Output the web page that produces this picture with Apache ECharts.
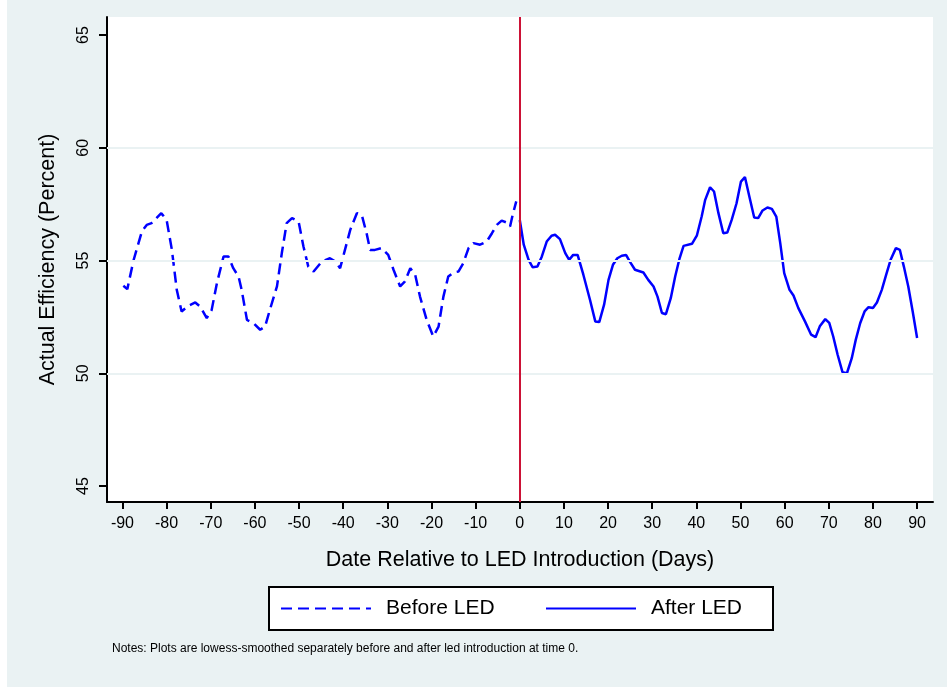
<!DOCTYPE html>
<html>
<head>
<meta charset="utf-8">
<script src="https://cdn.jsdelivr.net/npm/echarts@6/dist/echarts.min.js"></script>
<style>
html, body { margin: 0; padding: 0; background: #fff; }
#chart { width: 947px; height: 687px; }
</style>
</head>
<body>
<div id="chart"></div>
<script>
// days relative to LED introduction, lowess-smoothed efficiency (%)
var beforeDays = [-89.8, -88.9, -87.5, -85.6, -84.5, -83.4, -81.2, -80.0, -78.8, -77.7,
    -76.6, -75.0, -73.5, -72.4, -70.9, -69.8, -68.6, -67.1, -66.0, -64.9,
    -63.7, -63.0, -61.8, -60.3, -58.8, -57.7, -56.6, -55.0, -53.9, -52.8,
    -51.6, -50.1, -49.0, -47.9, -46.7, -44.8, -43.0, -41.8, -40.7, -39.6,
    -38.4, -36.9, -35.8, -34.7, -33.9, -32.8, -31.3, -29.8, -28.6, -27.1,
    -26.0, -24.8, -23.7, -22.6, -21.1, -19.6, -18.4, -17.3, -16.2, -15.0,
    -13.9, -12.8, -11.6, -10.5, -9.0, -7.5, -6.3, -5.2, -4.1, -2.9,
    -2.2, -1.6, -0.8];
var beforeVals = [53.88, 53.73, 55.0, 56.29, 56.58, 56.66, 57.1, 56.8, 55.47, 53.7,
    52.74, 53.0, 53.14, 52.96, 52.45, 52.8, 54.0, 55.18, 55.18, 54.66,
    54.29, 53.7, 52.37, 52.22, 51.93, 52.07, 52.82, 53.85, 55.33, 56.66,
    56.88, 56.73, 55.62, 54.73, 54.51, 54.96, 55.1, 54.96, 54.66, 55.47,
    56.36, 57.1, 57.03, 56.21, 55.47, 55.47, 55.55, 55.25, 54.59, 53.85,
    54.07, 54.66, 54.37, 53.4, 52.37, 51.63, 52.07, 53.4, 54.29, 54.47,
    54.51, 54.88, 55.55, 55.77, 55.7, 55.84, 56.21, 56.58, 56.77, 56.68,
    56.51, 57.03, 57.62];

var afterDays = [0, 0.9, 2.0, 2.9, 4.0, 5.0, 6.1, 7.2, 8.0, 9.1,
    10.3, 11.2, 12.1, 13.1, 14.4, 15.9, 17.1, 18.0, 19.1, 20.1,
    21.1, 22.1, 23.1, 24.1, 25.0, 26.1, 28.0, 29.1, 30.3, 31.2,
    32.2, 33.1, 34.2, 35.2, 36.2, 37.1, 39.0, 40.1, 41.2, 42.0,
    43.1, 44.0, 45.0, 46.1, 47.0, 48.0, 49.1, 50.1, 51.0, 52.0,
    53.1, 54.0, 55.0, 56.1, 57.1, 58.1, 59.0, 59.9, 61.1, 62.0,
    63.1, 64.6, 66.0, 67.0, 68.0, 69.2, 70.1, 71.0, 72.0, 73.1,
    74.1, 75.2, 76.1, 77.1, 78.1, 79.0, 80.0, 80.9, 82.0, 83.0,
    84.0, 85.2, 86.1, 87.0, 88.0, 89.0, 90.0];
var afterVals = [56.8, 55.7, 55.03, 54.7, 54.73, 55.18, 55.84, 56.1, 56.14, 55.95,
    55.33, 55.03, 55.25, 55.25, 54.37, 53.26, 52.3, 52.27, 53.04, 54.14,
    54.81, 55.1, 55.21, 55.24, 54.93, 54.59, 54.47, 54.14, 53.85, 53.4,
    52.67, 52.62, 53.33, 54.29, 55.1, 55.65, 55.74, 56.1, 56.95, 57.69,
    58.25, 58.06, 57.1, 56.21, 56.24, 56.8, 57.54, 58.5, 58.7, 57.84,
    56.91, 56.88, 57.22, 57.35, 57.29, 56.95, 55.77, 54.44, 53.7, 53.45,
    52.89, 52.3, 51.71, 51.6, 52.1, 52.4, 52.23, 51.63, 50.82, 50.05,
    50.0, 50.67, 51.48, 52.22, 52.74, 52.93, 52.89, 53.14, 53.7, 54.37,
    55.03, 55.55, 55.47, 54.73, 53.85, 52.74, 51.56];

var xTicks = [-90, -80, -70, -60, -50, -40, -30, -20, -10, 0, 10, 20, 30, 40, 50, 60, 70, 80, 90];
var yTicks = [45, 50, 55, 60, 65];
var gridVals = [50, 55, 60];

var font = "'Liberation Sans', Arial, Helvetica, sans-serif";
var bg = '#eaf2f3';

function pairs(xs, ys) {
    return xs.map(function (x, i) { return [x, ys[i]]; });
}

var chart = echarts.init(document.getElementById('chart'));

var legendBase = {
    top: 598, padding: 0,
    itemWidth: 90, itemHeight: 14, z: 10,
    itemStyle: { opacity: 0 },
    textStyle: { fontSize: 21, color: '#000', padding: [0, 0, 0, 10] }
};

var option = {
    backgroundColor: bg,
    animation: false,
    textStyle: { fontFamily: font, color: '#000' },
    title: {
        text: 'Notes: Plots are lowess-smoothed separately before and after led introduction at time 0.',
        left: 112,
        top: 643,
        padding: 0,
        textStyle: { fontSize: 12, fontWeight: 'normal', color: '#000', fontFamily: font }
    },
    graphic: [
        { type: 'rect', left: 0, top: 0, shape: { width: 7, height: 687 }, style: { fill: '#fff' }, z: 0 },
        { type: 'rect', left: 268, top: 586, shape: { width: 504, height: 43 },
          style: { fill: '#fff', stroke: '#000', lineWidth: 2 }, z: 1 }
    ],
    legend: [
        Object.assign({ data: ['Before LED'], left: 280 }, legendBase),
        Object.assign({ data: ['After LED'], left: 545 }, legendBase)
    ],
    grid: {
        left: 107, right: 14, top: 17, bottom: 185,
        show: true, backgroundColor: '#fff', borderWidth: 0,
        containLabel: false
    },
    xAxis: {
        type: 'value',
        min: -93.5, max: 93.6,
        name: 'Date Relative to LED Introduction (Days)',
        nameLocation: 'middle',
        nameGap: 47,
        nameTextStyle: { fontSize: 21.5, color: '#000' },
        axisLine: { onZero: false, lineStyle: { color: '#000', width: 2 } },
        axisTick: { customValues: xTicks, length: 7, lineStyle: { color: '#000', width: 2 } },
        axisLabel: { customValues: xTicks, fontSize: 16, color: '#000', margin: 14 },
        splitLine: { show: false }
    },
    yAxis: {
        type: 'value',
        min: 44.29, max: 65.8,
        name: 'Actual Efficiency (Percent)',
        nameLocation: 'middle',
        nameRotate: 90,
        nameGap: 48,
        nameTextStyle: { fontSize: 21.5, color: '#000' },
        axisLine: { show: true, onZero: false, lineStyle: { color: '#000', width: 2 } },
        axisTick: { show: true, customValues: yTicks, length: 8, lineStyle: { color: '#000', width: 2 } },
        axisLabel: { customValues: yTicks, fontSize: 16, color: '#000', rotate: 90, margin: 15 },
        splitLine: { show: false }
    },
    series: [
        {
            // horizontal gridlines
            name: 'grid',
            type: 'line',
            data: [],
            z: 1,
            silent: true,
            markLine: {
                silent: true,
                symbol: ['none', 'none'],
                label: { show: false },
                lineStyle: { color: bg, width: 2, type: 'solid' },
                data: gridVals.map(function (v) { return { yAxis: v }; })
            }
        },
        {
            name: 'Before LED',
            type: 'line',
            z: 3,
            showSymbol: false,
            symbol: 'none',
            data: pairs(beforeDays, beforeVals),
            lineStyle: { color: '#0000ff', width: 2.5, type: [11, 6] },
            itemStyle: { color: '#0000ff' }
        },
        {
            name: 'After LED',
            type: 'line',
            z: 3,
            showSymbol: false,
            symbol: 'none',
            data: pairs(afterDays, afterVals),
            lineStyle: { color: '#0000ff', width: 2.5 },
            itemStyle: { color: '#0000ff' },
            markLine: {
                silent: true,
                symbol: ['none', 'none'],
                label: { show: false },
                lineStyle: { color: '#cc1236', width: 2, type: 'solid' },
                data: [{ xAxis: 0 }]
            }
        }
    ]
};

chart.setOption(option);
</script>
</body>
</html>
